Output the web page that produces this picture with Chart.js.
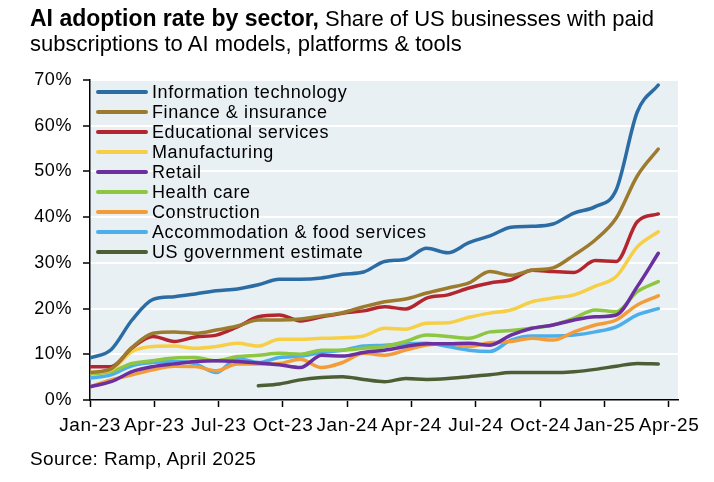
<!DOCTYPE html>
<html>
<head>
<meta charset="utf-8">
<script src="https://cdn.jsdelivr.net/npm/chart.js@4.4.1/dist/chart.umd.min.js"></script>
<style>
  html, body { margin: 0; padding: 0; background: #fff; }
  body { width: 714px; height: 482px; position: relative; overflow: hidden;
         font-family: "Liberation Sans", Arial, sans-serif; color: #000; }
  #title { position: absolute; left: 30px; top: 6px; width: 684px; font-size: 22px; line-height: 25px; z-index: 2; white-space: nowrap; }
  #title b { font-size: 23px; }
  #source { position: absolute; left: 30px; top: 448px; font-size: 19px; letter-spacing: 0.4px; z-index: 2; }
  canvas { position: absolute; left: 0; top: 0; }
</style>
</head>
<body>
<div id="title"><b>AI adoption rate by sector,</b> Share of US businesses with paid<br>subscriptions to AI models, platforms &amp; tools</div>
<canvas id="chart" width="714" height="482"></canvas>
<div id="source">Source: Ramp, April 2025</div>

<script>
// months since Jan-23 for each reading
const monthPos = [0, 0.98, 1.96, 2.94, 3.93, 4.91, 5.89, 6.87, 7.85, 8.83, 9.81, 10.80, 11.78, 12.76,
  13.74, 14.72, 15.70, 16.69, 17.67, 18.65, 19.63, 20.61, 21.59, 22.57, 23.56, 24.54, 25.52, 26.50];

const tickMonths = [0, 3, 6, 9, 12, 15, 18, 21, 24, 27];
const tickLabels = ['Jan-23', 'Apr-23', 'Jul-23', 'Oct-23', 'Jan-24', 'Apr-24', 'Jul-24', 'Oct-24', 'Jan-25', 'Apr-25'];

const seriesNames = ['Information technology', 'Finance & insurance', 'Educational services', 'Manufacturing',
  'Retail', 'Health care', 'Construction', 'Accommodation & food services', 'US government estimate'];
const seriesColors = ['#2c6ca4', '#9c7b2f', '#b4262f', '#f6cf46', '#6b2f9f', '#8dc641', '#f39c3a', '#4caeea', '#4c5e34'];

const itData = [9.2, 11.0, 17.5, 22.0, 22.6, 23.2, 23.9, 24.3, 25.2, 26.4, 26.4, 26.7, 27.5, 28.0,
  30.3, 30.8, 33.2, 32.2, 34.4, 35.9, 37.8, 38.0, 38.5, 40.9, 42.3, 46.0, 63.0, 68.9];
const financeData = [6.0, 6.8, 11.5, 14.6, 14.9, 14.6, 15.3, 16.2, 17.5, 17.5, 17.7, 18.4, 19.1, 20.4,
  21.5, 22.1, 23.4, 24.5, 25.6, 28.1, 27.3, 28.4, 28.9, 31.7, 35.0, 39.8, 49.0, 54.9];
const eduData = [7.3, 7.3, 11.4, 13.9, 12.8, 13.8, 14.2, 16.0, 18.2, 18.6, 17.3, 18.2, 19.0, 19.5,
  20.4, 19.9, 22.3, 23.0, 24.5, 25.6, 26.3, 28.4, 28.1, 27.9, 30.5, 30.3, 39.0, 40.7];
const manufData = [6.0, 6.6, 10.6, 11.7, 11.8, 11.3, 11.7, 12.4, 11.8, 13.3, 13.3, 13.5, 13.6, 14.0,
  15.7, 15.5, 16.8, 16.9, 18.1, 19.0, 19.7, 21.5, 22.3, 23.0, 24.9, 27.0, 33.5, 36.8];
const retailData = [2.9, 4.0, 6.2, 7.3, 7.9, 8.4, 8.6, 8.4, 8.1, 7.7, 7.1, 9.8, 9.6, 10.4,
  10.9, 11.7, 12.3, 12.3, 12.4, 12.0, 14.2, 15.7, 16.4, 17.5, 18.2, 18.6, 24.8, 32.1];
const healthData = [5.7, 6.2, 8.0, 8.6, 9.2, 9.3, 8.6, 9.5, 9.8, 10.2, 10.0, 10.9, 10.9, 11.3,
  11.7, 12.8, 14.2, 13.9, 13.5, 14.9, 15.2, 15.7, 16.4, 17.9, 19.7, 19.3, 23.7, 25.9];
const constructionData = [2.9, 4.4, 5.5, 6.6, 7.4, 7.3, 6.4, 7.9, 7.9, 8.0, 8.9, 7.1, 8.2, 10.2,
  9.8, 10.9, 12.0, 12.3, 11.7, 12.5, 12.8, 13.5, 13.1, 14.9, 16.4, 17.5, 20.8, 22.8];
const accomData = [4.8, 5.5, 7.5, 8.2, 8.4, 7.9, 6.0, 9.1, 8.2, 9.3, 9.6, 10.4, 10.9, 11.8,
  12.0, 12.3, 12.4, 11.7, 10.9, 10.6, 13.1, 14.0, 14.0, 14.2, 14.9, 16.0, 18.6, 20.0];
const govData = [null, null, null, null, null, null, null, null, 3.1, 3.5, 4.4, 4.9, 5.1, 4.5,
  4.0, 4.7, 4.5, 4.7, 5.1, 5.5, 6.0, 6.0, 6.0, 6.2, 6.7, 7.4, 8.0, 7.9];

const allSeries = [itData, financeData, eduData, manufData, retailData, healthData, constructionData, accomData, govData];

Chart.defaults.font.family = '"Liberation Sans", Arial, sans-serif';
Chart.defaults.color = '#000';

// light panel behind the plot, plus a little letter spacing to match the wide lettering
const plotBg = {
  id: 'plotBg',
  beforeDraw(chart) {
    const { ctx, chartArea: a } = chart;
    ctx.letterSpacing = '0.6px';
    ctx.save();
    ctx.fillStyle = '#e9f0f4';
    ctx.fillRect(a.left, a.top, a.right - a.left, a.bottom - a.top);
    ctx.restore();
  }
};

// legend sits inside the plot, top left
const innerLegend = {
  id: 'innerLegend',
  afterDraw(chart) {
    const { ctx, chartArea: a } = chart;
    ctx.save();
    ctx.font = '18px "Liberation Sans", Arial, sans-serif';
    ctx.textBaseline = 'middle';
    ctx.textAlign = 'left';
    chart.data.datasets.forEach((ds, i) => {
      const y = a.top + 12 + i * 20;
      ctx.strokeStyle = ds.borderColor;
      ctx.lineWidth = 4;
      ctx.lineCap = 'round';
      ctx.beginPath();
      ctx.moveTo(a.left + 8, y);
      ctx.lineTo(a.left + 56, y);
      ctx.stroke();
      ctx.fillStyle = '#000';
      ctx.fillText(ds.label, a.left + 62, y + 1);
    });
    ctx.restore();
  }
};

const datasets = seriesNames.map((name, i) => ({
  label: name,
  data: monthPos.map((m, j) => ({ x: m, y: allSeries[i][j] })),
  borderColor: seriesColors[i],
  backgroundColor: seriesColors[i],
  borderWidth: 3.5,
  pointRadius: 0,
  cubicInterpolationMode: 'monotone',
  borderCapStyle: 'round',
  borderJoinStyle: 'round'
}));

new Chart(document.getElementById('chart').getContext('2d'), {
  type: 'line',
  data: { datasets: datasets },
  options: {
    responsive: false,
    animation: false,
    devicePixelRatio: 1,
    layout: { padding: { top: 80, right: 36, bottom: 0, left: 0 } },
    plugins: {
      legend: { display: false },
      tooltip: { enabled: false }
    },
    scales: {
      x: {
        type: 'linear',
        min: 0,
        max: 27.42,
        afterFit: s => { s.height = 82; },
        afterBuildTicks: s => { s.ticks = tickMonths.map(v => ({ value: v })); },
        ticks: {
          autoSkip: false,
          maxRotation: 0,
          padding: 7,
          font: { size: 19 },
          callback: v => tickLabels[tickMonths.indexOf(v)]
        },
        grid: { drawOnChartArea: false, drawTicks: true, tickLength: 7, tickColor: '#000', tickWidth: 1.5 },
        border: { color: '#000', width: 1.5 }
      },
      y: {
        min: 0,
        max: 70,
        afterFit: s => { s.width = 90; },
        ticks: {
          stepSize: 10,
          padding: 11,
          font: { size: 18 },
          callback: v => v + '%'
        },
        grid: { color: '#ffffff', lineWidth: 2, tickLength: 7, tickColor: '#000', tickWidth: 1.5 },
        border: { color: '#000', width: 1.5 }
      }
    }
  },
  plugins: [plotBg, innerLegend]
});
</script>
</body>
</html>
